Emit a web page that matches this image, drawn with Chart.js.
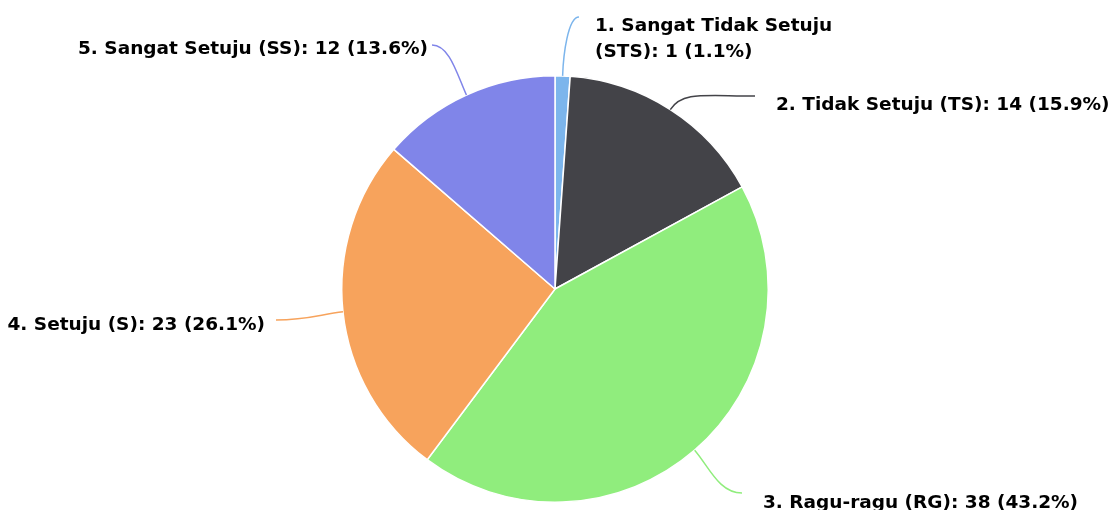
<!DOCTYPE html>
<html>
<head>
<meta charset="utf-8">
<script src="https://cdn.jsdelivr.net/npm/chart.js@4.4.1/dist/chart.umd.min.js"></script>
<style>
  html, body { margin: 0; padding: 0; background: #ffffff; }
  #wrap { width: 1120px; height: 510px; position: relative; }
</style>
</head>
<body>
<div id="wrap"><canvas id="c" width="1120" height="510"></canvas></div>
<script>
const categories = [
  "1. Sangat Tidak Setuju (STS)",
  "2. Tidak Setuju (TS)",
  "3. Ragu-ragu (RG)",
  "4. Setuju (S)",
  "5. Sangat Setuju (SS)"
];
const values = [1, 14, 38, 23, 12];
const colors = ["#7cb5ec", "#434348", "#90ed7d", "#f7a35c", "#8085e9"];

// label placement (text anchor, baseline, connector end) – layout only
const labelLayout = [
  { x: 595, y: 31, align: "left",  maxWidth: 260, end: [579, 17] },
  { x: 776, y: 110, align: "left", end: [755, 96] },
  { x: 763, y: 508, align: "left", end: [742, 493] },
  { x: 265, y: 330, align: "right", end: [276, 320] },
  { x: 428, y: 54, align: "right", end: [432, 45] }
];
const LABEL_FONT = "bold 18.5px 'DejaVu Sans', sans-serif";
const LINE_H = 26;

const total = values.reduce((a, b) => a + b, 0);

function wrap(ctx, text, maxW) {
  if (!maxW) return [text];
  const words = text.split(" ");
  const lines = [];
  let cur = "";
  for (const w of words) {
    const t = cur ? cur + " " + w : w;
    if (ctx.measureText(t).width > maxW && cur) { lines.push(cur); cur = w; }
    else cur = t;
  }
  if (cur) lines.push(cur);
  return lines;
}

const pieLabels = {
  id: "pieLabels",
  afterDatasetsDraw(chart) {
    const ctx = chart.ctx;
    const meta = chart.getDatasetMeta(0);
    ctx.save();
    meta.data.forEach((arc, i) => {
      const lay = labelLayout[i];
      const mid = (arc.startAngle + arc.endAngle) / 2;
      const r = arc.outerRadius;
      const P = [arc.x + Math.cos(mid) * r, arc.y + Math.sin(mid) * r];
      const B = [arc.x + Math.cos(mid) * (r + 22), arc.y + Math.sin(mid) * (r + 22)];
      const L = lay.end;
      const C = [B[0] + (L[0] - B[0]) * 0.3, L[1]];
      ctx.beginPath();
      ctx.moveTo(P[0], P[1]);
      ctx.bezierCurveTo(B[0], B[1], C[0], C[1], L[0], L[1]);
      ctx.strokeStyle = colors[i];
      ctx.lineWidth = 1.5;
      ctx.stroke();

      const pct = (values[i] / total * 100).toFixed(1);
      const text = categories[i] + ": " + values[i] + " (" + pct + "%)";
      ctx.font = LABEL_FONT;
      ctx.fillStyle = "#000000";
      ctx.textAlign = lay.align;
      ctx.textBaseline = "alphabetic";
      const lines = wrap(ctx, text, lay.maxWidth);
      lines.forEach((ln, k) => ctx.fillText(ln, lay.x, lay.y + k * LINE_H));
    });
    ctx.restore();
  }
};

new Chart(document.getElementById("c"), {
  type: "pie",
  data: {
    labels: categories,
    datasets: [{
      data: values,
      backgroundColor: colors,
      borderColor: "#ffffff",
      borderWidth: 1.5,
      hoverOffset: 0
    }]
  },
  options: {
    responsive: false,
    animation: false,
    layout: { padding: { top: 75, bottom: 7, left: 341, right: 351 } },
    plugins: { legend: { display: false }, tooltip: { enabled: false } }
  },
  plugins: [pieLabels]
});
</script>
</body>
</html>
